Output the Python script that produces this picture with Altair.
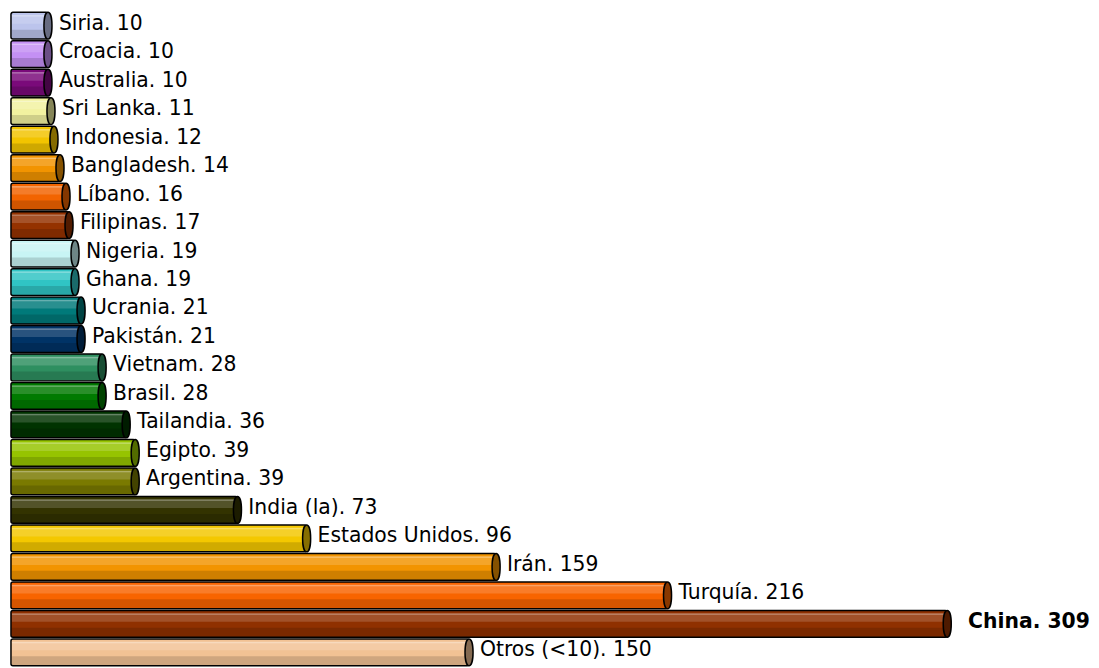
import altair as alt
import pandas as pd

names = ["Siria", "Croacia", "Australia", "Sri Lanka", "Indonesia", "Bangladesh",
         "Líbano", "Filipinas", "Nigeria", "Ghana", "Ucrania", "Pakistán",
         "Vietnam", "Brasil", "Tailandia", "Egipto", "Argentina", "India (la)",
         "Estados Unidos", "Irán", "Turquía", "China", "Otros (<10)"]
values = [10, 10, 10, 11, 12, 14, 16, 17, 19, 19, 21, 21, 28, 28, 36, 39, 39,
          73, 96, 159, 216, 309, 150]
colors = ["#BCC4EC", "#C490F4", "#7A0A7A", "#F2F2A0", "#F2C400", "#F29400",
          "#F26400", "#943200", "#C8F4F4", "#30C4C4", "#007A7A", "#003366",
          "#2E8F60", "#007A00", "#003300", "#96C400", "#7A7A00", "#333300",
          "#F4C800", "#F29400", "#F86400", "#8F3000", "#F2C294"]
highlight = "China"

df = pd.DataFrame({"name": names, "value": values, "color": colors})
df["label"] = df["name"] + ". " + df["value"].astype(str)

y = alt.Y("name:N", sort=names, axis=None,
          scale=alt.Scale(paddingInner=0.06, paddingOuter=0.03))
x = alt.X("value:Q", axis=None, stack=None,
          scale=alt.Scale(domain=[-2.3, 356.8], nice=False, zero=False))
fill = alt.Color("color:N", scale=None, legend=None)

base = alt.Chart(df)

body = base.mark_bar(stroke="black", strokeWidth=1.5, cornerRadius=2).encode(
    y=y, x=x, x2=alt.value(0), color=fill)

shade = base.mark_bar(height=9, yOffset=8.5, color="black", opacity=0.14).encode(
    y=y, x=x, x2=alt.value(1))
hilite = base.mark_bar(height=8, yOffset=-6, color="white", opacity=0.16).encode(
    y=y, x=x, x2=alt.value(1))
line = base.mark_bar(height=1.5, yOffset=-10, color="white", opacity=0.35).encode(
    y=y, x=x, x2=alt.value(1))

cap_path = "M0,-1C0.4,-1 0.4,1 0,1C-0.4,1 -0.4,-1 0,-1Z"
cap = base.mark_point(shape=cap_path, size=729, filled=True, opacity=1).encode(
    y=y, x=x, color=fill)
cap_dark = base.mark_point(shape=cap_path, size=729, filled=True, fill="black",
                           fillOpacity=0.45, stroke="black", strokeWidth=1.5,
                           strokeOpacity=1).encode(y=y, x=x)

labels = base.mark_text(align="left", baseline="middle", dx=11, dy=-2,
                        font="DejaVu Sans", fontSize=20.5, color="black").encode(
    y=y, x=x, text="label:N").transform_filter(alt.datum.name != highlight)
labels_b = base.mark_text(align="left", baseline="middle", dx=21, dy=-2,
                          font="DejaVu Sans", fontSize=20.5, fontWeight="bold",
                          color="black").encode(
    y=y, x=x, text="label:N").transform_filter(alt.datum.name == highlight)

chart = alt.layer(body, shade, hilite, line, cap, cap_dark, labels, labels_b).properties(
    width=1088, height=660,
    padding={"left": 3, "top": 1, "right": 0, "bottom": 0},
    autosize=alt.AutoSizeParams(type="none"),
    background="white",
).configure_view(stroke=None)

chart.save("out.html", embed_options={"renderer": "svg", "actions": False})
